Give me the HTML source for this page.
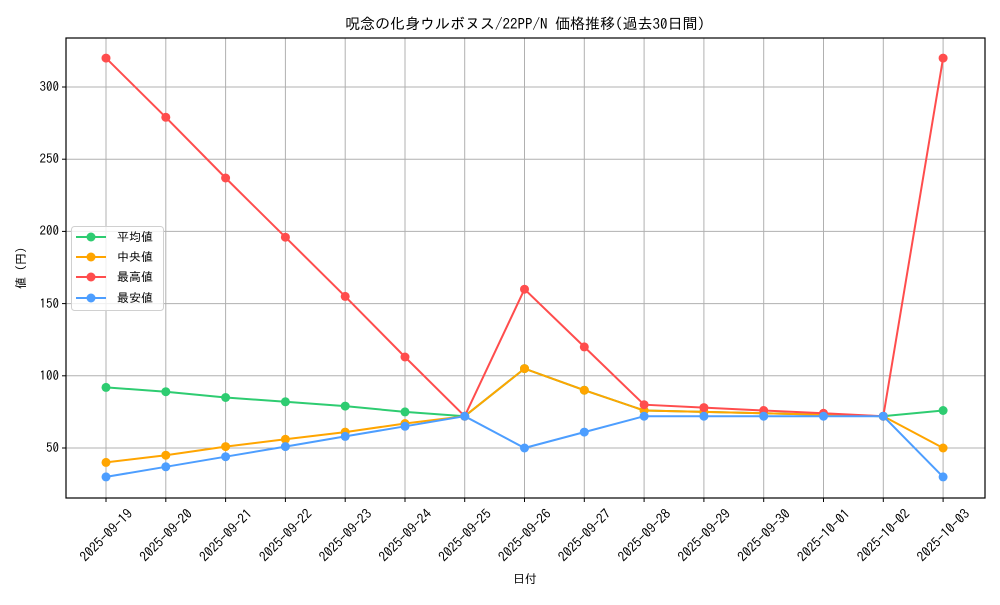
<!DOCTYPE html>
<html><head><meta charset="utf-8"><style>
body{margin:0;background:#fff}
svg{font-family:"IPAGothic","Liberation Sans","Noto Sans CJK JP",sans-serif}
</style></head><body>
<svg width="1000" height="600" viewBox="0 0 1000 600" xmlns="http://www.w3.org/2000/svg">
<rect width="1000" height="600" fill="#fff"/>
<text x="525" y="29" font-size="15" text-anchor="middle" fill="#000">呪念の化身ウルボヌス/22PP/N 価格推移(過去30日間)</text>
<g stroke="#b0b0b0" stroke-width="1">
<line x1="106" y1="38" x2="106" y2="498"/><line x1="165.8" y1="38" x2="165.8" y2="498"/><line x1="225.6" y1="38" x2="225.6" y2="498"/><line x1="285.4" y1="38" x2="285.4" y2="498"/><line x1="345.2" y1="38" x2="345.2" y2="498"/><line x1="405" y1="38" x2="405" y2="498"/><line x1="464.7" y1="38" x2="464.7" y2="498"/><line x1="524.5" y1="38" x2="524.5" y2="498"/><line x1="584.3" y1="38" x2="584.3" y2="498"/><line x1="644.1" y1="38" x2="644.1" y2="498"/><line x1="703.9" y1="38" x2="703.9" y2="498"/><line x1="763.7" y1="38" x2="763.7" y2="498"/><line x1="823.5" y1="38" x2="823.5" y2="498"/><line x1="883.3" y1="38" x2="883.3" y2="498"/><line x1="943.1" y1="38" x2="943.1" y2="498"/>
<line x1="66" y1="448" x2="985" y2="448"/><line x1="66" y1="375.8" x2="985" y2="375.8"/><line x1="66" y1="303.6" x2="985" y2="303.6"/><line x1="66" y1="231.4" x2="985" y2="231.4"/><line x1="66" y1="159.2" x2="985" y2="159.2"/><line x1="66" y1="87" x2="985" y2="87"/>
</g>
<rect x="66" y="38" width="919" height="460" fill="none" stroke="#000" stroke-width="1.2"/>
<g stroke="#000" stroke-width="1">
<line x1="62" y1="448" x2="66" y2="448"/><line x1="62" y1="375.8" x2="66" y2="375.8"/><line x1="62" y1="303.6" x2="66" y2="303.6"/><line x1="62" y1="231.4" x2="66" y2="231.4"/><line x1="62" y1="159.2" x2="66" y2="159.2"/><line x1="62" y1="87" x2="66" y2="87"/>
<line x1="106" y1="498" x2="106" y2="502"/><line x1="165.8" y1="498" x2="165.8" y2="502"/><line x1="225.6" y1="498" x2="225.6" y2="502"/><line x1="285.4" y1="498" x2="285.4" y2="502"/><line x1="345.2" y1="498" x2="345.2" y2="502"/><line x1="405" y1="498" x2="405" y2="502"/><line x1="464.7" y1="498" x2="464.7" y2="502"/><line x1="524.5" y1="498" x2="524.5" y2="502"/><line x1="584.3" y1="498" x2="584.3" y2="502"/><line x1="644.1" y1="498" x2="644.1" y2="502"/><line x1="703.9" y1="498" x2="703.9" y2="502"/><line x1="763.7" y1="498" x2="763.7" y2="502"/><line x1="823.5" y1="498" x2="823.5" y2="502"/><line x1="883.3" y1="498" x2="883.3" y2="502"/><line x1="943.1" y1="498" x2="943.1" y2="502"/>
</g>
<g font-size="13" text-anchor="end" fill="#000">
<text x="59" y="452">50</text><text x="59" y="380">100</text><text x="59" y="308">150</text><text x="59" y="235">200</text><text x="59" y="163">250</text><text x="59" y="91">300</text>
</g>
<g font-size="13.5" text-anchor="middle" fill="#000" dominant-baseline="central">
<text transform="translate(106,535) rotate(-45)">2025-09-19</text>
<text transform="translate(165.8,535) rotate(-45)">2025-09-20</text>
<text transform="translate(225.6,535) rotate(-45)">2025-09-21</text>
<text transform="translate(285.4,535) rotate(-45)">2025-09-22</text>
<text transform="translate(345.2,535) rotate(-45)">2025-09-23</text>
<text transform="translate(405,535) rotate(-45)">2025-09-24</text>
<text transform="translate(464.7,535) rotate(-45)">2025-09-25</text>
<text transform="translate(524.5,535) rotate(-45)">2025-09-26</text>
<text transform="translate(584.3,535) rotate(-45)">2025-09-27</text>
<text transform="translate(644.1,535) rotate(-45)">2025-09-28</text>
<text transform="translate(703.9,535) rotate(-45)">2025-09-29</text>
<text transform="translate(763.7,535) rotate(-45)">2025-09-30</text>
<text transform="translate(823.5,535) rotate(-45)">2025-10-01</text>
<text transform="translate(883.3,535) rotate(-45)">2025-10-02</text>
<text transform="translate(943.1,535) rotate(-45)">2025-10-03</text>
</g>
<text x="525" y="583" font-size="12" text-anchor="middle">日付</text>
<text transform="translate(25,268) rotate(-90)" font-size="12" text-anchor="middle">値 (円)</text>

<polyline fill="none" stroke="#2ecc71" stroke-width="2" points="106,387.4 165.8,391.7 225.6,397.5 285.4,401.8 345.2,406.1 405,411.9 464.7,416.2 524.5,368.6 584.3,390.2 644.1,410.5 703.9,411.9 763.7,413.3 823.5,414.8 883.3,416.2 943.1,410.5"/>
<g fill="#2ecc71"><circle cx="106" cy="387.4" r="4.5"/><circle cx="165.8" cy="391.7" r="4.5"/><circle cx="225.6" cy="397.5" r="4.5"/><circle cx="285.4" cy="401.8" r="4.5"/><circle cx="345.2" cy="406.1" r="4.5"/><circle cx="405" cy="411.9" r="4.5"/><circle cx="464.7" cy="416.2" r="4.5"/><circle cx="524.5" cy="368.6" r="4.5"/><circle cx="584.3" cy="390.2" r="4.5"/><circle cx="644.1" cy="410.5" r="4.5"/><circle cx="703.9" cy="411.9" r="4.5"/><circle cx="763.7" cy="413.3" r="4.5"/><circle cx="823.5" cy="414.8" r="4.5"/><circle cx="883.3" cy="416.2" r="4.5"/><circle cx="943.1" cy="410.5" r="4.5"/></g>

<polyline fill="none" stroke="#ffa500" stroke-width="2" points="106,462.4 165.8,455.2 225.6,446.6 285.4,439.3 345.2,432.1 405,423.5 464.7,416.2 524.5,368.6 584.3,390.2 644.1,410.5 703.9,411.9 763.7,413.3 823.5,414.8 883.3,416.2 943.1,448"/>
<g fill="#ffa500"><circle cx="106" cy="462.4" r="4.5"/><circle cx="165.8" cy="455.2" r="4.5"/><circle cx="225.6" cy="446.6" r="4.5"/><circle cx="285.4" cy="439.3" r="4.5"/><circle cx="345.2" cy="432.1" r="4.5"/><circle cx="405" cy="423.5" r="4.5"/><circle cx="464.7" cy="416.2" r="4.5"/><circle cx="524.5" cy="368.6" r="4.5"/><circle cx="584.3" cy="390.2" r="4.5"/><circle cx="644.1" cy="410.5" r="4.5"/><circle cx="703.9" cy="411.9" r="4.5"/><circle cx="763.7" cy="413.3" r="4.5"/><circle cx="823.5" cy="414.8" r="4.5"/><circle cx="883.3" cy="416.2" r="4.5"/><circle cx="943.1" cy="448" r="4.5"/></g>

<polyline fill="none" stroke="#ff4d4d" stroke-width="2" points="106,58.1 165.8,117.3 225.6,178 285.4,237.2 345.2,296.4 405,357 464.7,416.2 524.5,289.2 584.3,346.9 644.1,404.7 703.9,407.6 763.7,410.5 823.5,413.3 883.3,416.2 943.1,58.1"/>
<g fill="#ff4d4d"><circle cx="106" cy="58.1" r="4.5"/><circle cx="165.8" cy="117.3" r="4.5"/><circle cx="225.6" cy="178" r="4.5"/><circle cx="285.4" cy="237.2" r="4.5"/><circle cx="345.2" cy="296.4" r="4.5"/><circle cx="405" cy="357" r="4.5"/><circle cx="464.7" cy="416.2" r="4.5"/><circle cx="524.5" cy="289.2" r="4.5"/><circle cx="584.3" cy="346.9" r="4.5"/><circle cx="644.1" cy="404.7" r="4.5"/><circle cx="703.9" cy="407.6" r="4.5"/><circle cx="763.7" cy="410.5" r="4.5"/><circle cx="823.5" cy="413.3" r="4.5"/><circle cx="883.3" cy="416.2" r="4.5"/><circle cx="943.1" cy="58.1" r="4.5"/></g>

<polyline fill="none" stroke="#4d9eff" stroke-width="2" points="106,476.9 165.8,466.8 225.6,456.7 285.4,446.6 345.2,436.4 405,426.3 464.7,416.2 524.5,448 584.3,432.1 644.1,416.2 703.9,416.2 763.7,416.2 823.5,416.2 883.3,416.2 943.1,476.9"/>
<g fill="#4d9eff"><circle cx="106" cy="476.9" r="4.5"/><circle cx="165.8" cy="466.8" r="4.5"/><circle cx="225.6" cy="456.7" r="4.5"/><circle cx="285.4" cy="446.6" r="4.5"/><circle cx="345.2" cy="436.4" r="4.5"/><circle cx="405" cy="426.3" r="4.5"/><circle cx="464.7" cy="416.2" r="4.5"/><circle cx="524.5" cy="448" r="4.5"/><circle cx="584.3" cy="432.1" r="4.5"/><circle cx="644.1" cy="416.2" r="4.5"/><circle cx="703.9" cy="416.2" r="4.5"/><circle cx="763.7" cy="416.2" r="4.5"/><circle cx="823.5" cy="416.2" r="4.5"/><circle cx="883.3" cy="416.2" r="4.5"/><circle cx="943.1" cy="476.9" r="4.5"/></g>

<rect x="71.5" y="226.5" width="92" height="84" rx="3" fill="#fff" fill-opacity="0.8" stroke="#d0d0d0"/>
<g stroke-width="2">
<line x1="76" y1="237" x2="106" y2="237" stroke="#2ecc71"/><circle cx="91" cy="237" r="4.5" fill="#2ecc71"/>
<line x1="76" y1="257" x2="106" y2="257" stroke="#ffa500"/><circle cx="91" cy="257" r="4.5" fill="#ffa500"/>
<line x1="76" y1="277" x2="106" y2="277" stroke="#ff4d4d"/><circle cx="91" cy="277" r="4.5" fill="#ff4d4d"/>
<line x1="76" y1="298" x2="106" y2="298" stroke="#4d9eff"/><circle cx="91" cy="298" r="4.5" fill="#4d9eff"/>
</g>
<g font-size="12" fill="#000">
<text x="117" y="241">平均値</text><text x="117" y="261">中央値</text><text x="117" y="281">最高値</text><text x="117" y="302">最安値</text>
</g>
</svg>
</body></html>
